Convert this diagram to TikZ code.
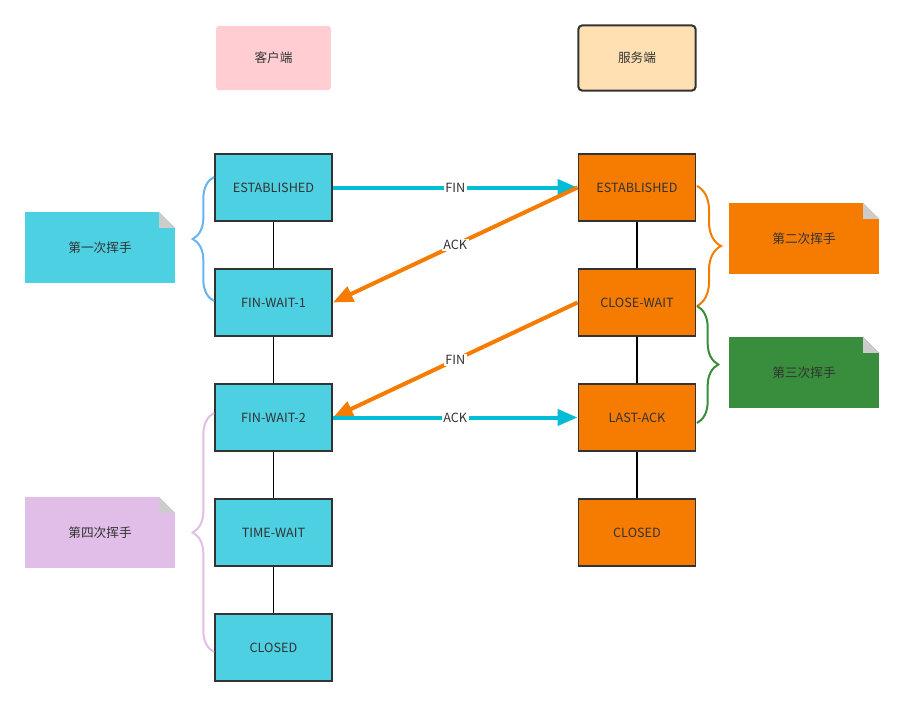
\documentclass[tikz,border=0pt]{standalone}
\usepackage{fontspec}
\setmainfont{Noto Sans CJK SC}
\usetikzlibrary{arrows.meta,decorations.pathreplacing}
\definecolor{clientc}{HTML}{4DD0E1}
\definecolor{serverc}{HTML}{F57C00}
\definecolor{arrowc}{HTML}{00BCD4}
\definecolor{bracec}{HTML}{64B5F6}
\definecolor{greenc}{HTML}{388E3C}
\definecolor{lilac}{HTML}{E1BEE7}
\definecolor{pinkc}{HTML}{FFCDD2}
\definecolor{sandc}{HTML}{FFE0B2}
\definecolor{edgec}{HTML}{333333}
\definecolor{foldc}{HTML}{CCCCCC}

\begin{document}
\begin{tikzpicture}[x=0.75pt,y=-0.75pt,font=\fontsize{9.5}{11}\selectfont,text=edgec,
	state/.style={rectangle,draw=edgec,line width=1.2pt,minimum width=88pt,minimum height=50pt},
	note/.style={rectangle,minimum width=112.5pt,minimum height=53.5pt,path picture={
		\fill[white] ([xshift=-12pt]path picture bounding box.north east) -- (path picture bounding box.north east) -- ([yshift=-12pt]path picture bounding box.north east) -- cycle;
		\fill[foldc] ([xshift=-12pt]path picture bounding box.north east) -- ([xshift=-12pt,yshift=-12pt]path picture bounding box.north east) -- ([yshift=-12pt]path picture bounding box.north east) -- cycle;}},
	msg/.style={-{Triangle[length=15pt,width=12pt]},line width=3pt},
	lbl/.style={fill=white,text=edgec,inner sep=1pt},
	hand/.style={decorate,decoration={brace,amplitude=#1},line width=1.5pt}]
	\useasboundingbox (0,0) rectangle (904,707);

	\node[rectangle,fill=pinkc,rounded corners=2pt,minimum width=86pt,minimum height=48pt] (client) at(273.5,58) {客户端};
	\node[rectangle,fill=sandc,draw=edgec,line width=1.5pt,rounded corners=3pt,minimum width=88pt,minimum height=49pt] (server) at(637,58) {服务端};

	\node[state,fill=clientc] (cEst) at(273.5,187.5) {ESTABLISHED};
	\node[state,fill=clientc] (cFw1) at(273.5,302.5) {FIN-WAIT-1};
	\node[state,fill=clientc] (cFw2) at(273.5,417.5) {FIN-WAIT-2};
	\node[state,fill=clientc] (cTw) at(273.5,532.5) {TIME-WAIT};
	\node[state,fill=clientc] (cClosed) at(273.5,647.5) {CLOSED};

	\node[state,fill=serverc] (sEst) at(637,187.5) {ESTABLISHED};
	\node[state,fill=serverc] (sCw) at(637,302.5) {CLOSE-WAIT};
	\node[state,fill=serverc] (sLa) at(637,417.5) {LAST-ACK};
	\node[state,fill=serverc] (sClosed) at(637,532.5) {CLOSED};

	\draw[line width=1.2pt] (cEst) -- (cFw1) -- (cFw2) -- (cTw) -- (cClosed);
	\draw[line width=1.2pt] (sEst) -- (sCw) -- (sLa) -- (sClosed);

	\node[note,fill=clientc] (note1) at(100,247.5) {第一次挥手};
	\node[note,fill=serverc] (note2) at(804,238.5) {第二次挥手};
	\node[note,fill=greenc] (note3) at(804,372.5) {第三次挥手};
	\node[note,fill=lilac] (note4) at(100,532.5) {第四次挥手};

	\draw[msg,arrowc] (cEst) -- (sEst) node[lbl,midway] {FIN};
	\draw[msg,serverc] (sEst.west) -- (cFw1.east) node[lbl,midway] {ACK};
	\draw[msg,serverc] (sCw.west) -- (cFw2.east) node[lbl,midway] {FIN};
	\draw[msg,arrowc] (cFw2) -- (sLa) node[lbl,midway] {ACK};

	\draw[hand=16pt,bracec] (214,301) -- (214,177);
	\draw[hand=18pt,serverc] (697,186) -- (697,306);
	\draw[hand=16pt,greenc] (697,306) -- (697,423);
	\draw[hand=16pt,lilac] (214,652) -- (214,413);
\end{tikzpicture}
\end{document}
